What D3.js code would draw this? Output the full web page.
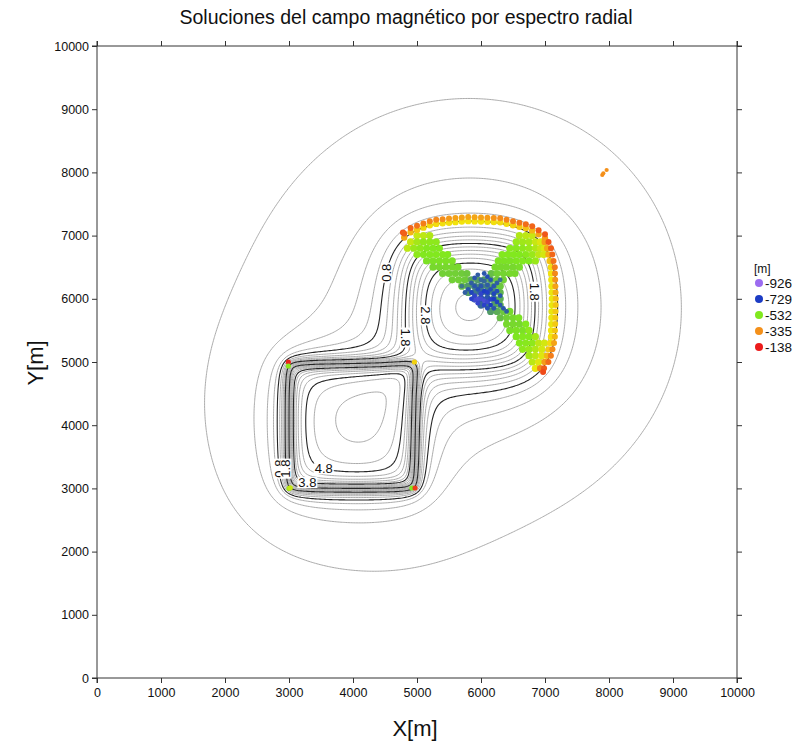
<!DOCTYPE html>
<html><head><meta charset="utf-8">
<script src="https://cdn.jsdelivr.net/npm/d3@7"></script>
<style>
body{margin:0;background:#fff;}
text{font-family:"Liberation Sans",Arial,sans-serif;}
</style>
</head><body>
<svg id="c" width="803" height="746"></svg>
<script>
// ---------------- data ----------------
const xTickValues = [0,1000,2000,3000,4000,5000,6000,7000,8000,9000,10000];
const yTickValues = [0,1000,2000,3000,4000,5000,6000,7000,8000,9000,10000];
const legendDepths = [-926,-729,-532,-335,-138];
const legendColors = ["#9c6cf0","#1c3cc4","#80e81e","#f4901a","#ec1c1c"];
// colour stops for the depth scale (m)
const depthStops  = [-926,-729,-532,-433,-335,-236,-138];
const depthColors = ["#9c6cf0","#1c3cc4","#80e81e","#f2e60c","#f4901a","#f05a18","#ec1c1c"];

// source bodies for the field: [x0, x1, y0, y1, topDepth, bottomDepth, amplitude]
const sourceBodies = [
  [2980, 4960, 2980, 4960,   70,  130, 0.87],
  [2980, 4960, 2980, 4960,  400, 1200, 0.08],
  [4860, 6800, 4920, 6830,  350,  500, 0.85],
  [4860, 6800, 4920, 6830, 3500, 4500, 0.70]
];
const fieldOffset = 0.12;
const contourLevels = [0,0.2,0.4,0.6,0.8,1,1.2,1.4,1.6,1.8,2,2.2,2.4,2.6,2.8,3,3.2,3.4,3.6,3.8,4,4.2,4.4,4.6,4.8,5,5.2,5.4,5.6,5.8,6,6.2];

// solutions [x, y, depth]
const solTopInner = [[4800,6968,-360],[4900,7054,-380],[5000,7090,-400],[5100,7126,-410],[5200,7162,-420],[5300,7185,-420],[5400,7194,-425],[5500,7204,-425],[5600,7213,-430],[5700,7222,-430],[5800,7229,-430],[5900,7225,-430],[6000,7222,-430],[6100,7218,-430],[6200,7214,-425],[6300,7210,-420],[6400,7187,-420],[6500,7163,-410],[6600,7140,-400],[6700,7116,-390],[6800,7082,-380],[6900,7020,-360],[7000,6958,-350]];
const solTopOuter = [[4780,7050,-230],[4800,7033,-250],[4900,7119,-260],[5000,7155,-280],[5100,7191,-300],[5200,7227,-310],[5300,7250,-320],[5400,7259,-330],[5500,7269,-345],[5600,7278,-355],[5700,7287,-360],[5800,7294,-360],[5900,7290,-360],[6000,7287,-355],[6100,7283,-350],[6200,7279,-340],[6300,7275,-330],[6400,7252,-315],[6500,7228,-300],[6600,7205,-285],[6700,7181,-270],[6800,7147,-255],[6900,7085,-240],[7000,7023,-230]];
const solRightInner = [[6995,6900,-350],[7034,6800,-360],[7054,6700,-370],[7073,6600,-390],[7093,6500,-420],[7096,6400,-430],[7099,6300,-435],[7102,6200,-440],[7105,6100,-440],[7108,6000,-440],[7106,5900,-440],[7104,5800,-440],[7101,5700,-440],[7099,5600,-440],[7096,5500,-435],[7094,5400,-430],[7081,5300,-420],[7056,5200,-400],[7032,5100,-380],[6993,5000,-350],[6925,4900,-320]];
const solRightOuter = [[7055,6900,-230],[7094,6800,-240],[7114,6700,-260],[7133,6600,-280],[7153,6500,-300],[7156,6400,-320],[7159,6300,-340],[7162,6200,-355],[7165,6100,-370],[7168,6000,-385],[7166,5900,-395],[7164,5800,-400],[7161,5700,-400],[7159,5600,-400],[7156,5500,-395],[7154,5400,-380],[7141,5300,-355],[7116,5200,-330],[7092,5100,-300],[7053,5000,-270],[6985,4900,-240],[6970,4840,-210]];
const solFill = [
 [5000,7000,-470],[5100,7000,-480],[5200,7000,-490],[6600,7000,-490],[6700,7000,-480],[6800,7000,-470],
 [4900,6900,-470],[5000,6900,-500],[5100,6900,-520],[5200,6900,-520],[5300,6900,-520],[6550,6900,-510],[6650,6900,-505],[6750,6900,-500],[6850,6900,-470],[6930,6900,-450],
 [4850,6800,-480],[4950,6800,-510],[5050,6800,-520],[5150,6800,-530],[5250,6800,-530],[5350,6800,-530],[6450,6800,-525],[6550,6800,-525],[6650,6800,-520],[6750,6800,-510],[6850,6800,-490],[6930,6800,-470],[6990,6800,-450],
 [5000,6700,-520],[5100,6700,-530],[5200,6700,-530],[5300,6700,-530],[5400,6700,-530],[5480,6700,-530],[6330,6700,-530],[6420,6700,-530],[6510,6700,-530],[6600,6700,-530],[6700,6700,-525],[6800,6700,-510],[6900,6700,-480],[6980,6700,-460],
 [5150,6600,-540],[5250,6600,-540],[5350,6600,-540],[5450,6600,-540],[5550,6600,-540],[6270,6600,-540],[6360,6600,-540],[6450,6600,-540],[6550,6600,-535],[6650,6600,-530],[6750,6600,-530],[6850,6600,-510],
 [5250,6500,-550],[5350,6500,-550],[5450,6500,-550],[5550,6500,-550],[5640,6500,-550],[6220,6500,-550],[6310,6500,-550],[6400,6500,-550],[6500,6500,-550],[6600,6500,-545],
 [5400,6400,-560],[5500,6400,-560],[5600,6400,-560],[5700,6400,-565],[5780,6400,-570],[6160,6400,-580],[6250,6400,-560],[6350,6400,-555],[6450,6400,-550],[6530,6400,-550],
 [5550,6300,-560],[5650,6300,-560],[5750,6300,-565],[5850,6300,-600],[5950,6300,-620],[6050,6300,-620],[6150,6300,-600],[6250,6300,-570],[6350,6300,-560],
 [5700,6200,-580],[5800,6200,-620],[5900,6200,-640],[6000,6200,-650],[6100,6200,-650],[6200,6200,-600],[6300,6200,-570],
 [5800,6100,-620],[5900,6100,-660],[6000,6100,-680],[6100,6100,-680],[6200,6100,-640],[6300,6100,-590],
 [5900,6000,-680],[6000,6000,-700],[6100,6000,-700],[6200,6000,-650],[6300,6000,-600],
 [6000,5900,-680],[6100,5900,-660],[6200,5900,-620],[6300,5900,-590],
 [6150,5800,-620],[6250,5800,-600],[6350,5800,-570],[6450,5800,-550],
 [6300,5700,-580],[6400,5700,-560],[6500,5700,-550],[6590,5700,-540],
 [6400,5600,-550],[6500,5600,-550],[6600,5600,-550],[6700,5600,-530],
 [6450,5500,-545],[6550,5500,-540],[6650,5500,-540],[6750,5500,-520],
 [6550,5400,-535],[6650,5400,-530],[6750,5400,-530],[6850,5400,-500],
 [6600,5300,-530],[6700,5300,-525],[6800,5300,-520],[6900,5300,-480],[6990,5300,-460],
 [6650,5200,-520],[6750,5200,-510],[6850,5200,-490],[6950,5200,-460],
 [6750,5100,-500],[6850,5100,-480],[6950,5100,-450],
 [6800,5000,-480],[6900,5000,-450],
 [6850,4900,-440]
];
const solCenter = [[5900,6050,-760],[5950,6000,-800],[6000,6000,-790],[6050,5970,-800],[6100,5950,-780],[6150,5990,-750],[6200,6000,-730],[6000,6080,-760],[6050,6120,-730],[5950,6150,-710],[6100,6100,-740],[6150,6150,-710],[6200,6080,-720],[5850,6100,-720],[5800,6150,-700],[5900,6200,-700],[6000,6200,-700],[6100,6220,-690],[6050,6280,-680],[6200,6200,-700],[6250,6120,-710],[6300,6050,-700],[6150,5900,-730],[6050,5900,-750],[5950,5930,-770],[6100,5850,-710],[6200,5850,-700],[5900,5980,-790],[5850,6000,-750],[5750,6100,-690],[5700,6200,-660],[6250,6250,-690],[6300,6300,-670],[6000,6300,-680],[6250,5950,-720],[6300,5900,-700],[5950,6380,-690],[6050,6400,-700],[6100,6350,-710],[5900,6330,-700],[6350,5850,-700],[6400,5800,-690],[6150,6300,-700],[5850,6250,-690]];
const solLowerBody = [[2990,5000,-150],[2990,4937,-520],[3000,3000,-500],[3020,3010,-470],[4920,3006,-530],[4970,3006,-190],[4960,5000,-410]];
const solFar = [[7895,7959,-330],[7911,7985,-335],[7963,8038,-335]];

// ---------------- layout ----------------
const svg = d3.select("#c");
const L = 97, R = 737, T = 46, B = 678;
const xs = d3.scaleLinear().domain([0,10000]).range([L,R]);
const ys = d3.scaleLinear().domain([0,10000]).range([B,T]);
const depthColor = d3.scaleLinear().domain(depthStops).range(depthColors).clamp(true);

svg.append("defs").append("clipPath").attr("id","clip")
  .append("rect").attr("x",L).attr("y",T).attr("width",R-L).attr("height",B-T);

// ---------------- field & contours ----------------
function sheetOmega(px, py, b, z){
  const X0=b[0]-px, X1=b[1]-px, Y0=b[2]-py, Y1=b[3]-py, z2=z*z;
  const f=(X,Y,s)=>s*Math.atan((X*Y)/(z*Math.sqrt(X*X+Y*Y+z2)));
  return f(X0,Y0,1)+f(X1,Y1,1)+f(X0,Y1,-1)+f(X1,Y0,-1);
}
const NZ = 4;
const N = 401, STEP = 10000/(N-1);
const vals = new Array(N*N);
for (let j=0;j<N;j++){
  const py=j*STEP;
  for (let i=0;i<N;i++){
    const px=i*STEP;
    let v=-fieldOffset;
    for (const b of sourceBodies){
      let s=0;
      for (let k=0;k<NZ;k++){
        const z=b[4]+(b[5]-b[4])*(k+0.5)/NZ;
        s+=sheetOmega(px,py,b,z);
      }
      v+=b[6]*s/NZ;
    }
    vals[j*N+i]=v;
  }
}
const contours = d3.contours().size([N,N]).thresholds(contourLevels)(vals);
const proj = d3.geoTransform({point(x,y){ this.stream.point(xs(x*STEP), ys(y*STEP)); }});
const gpath = d3.geoPath(proj);
const isMajor = v => Math.round(v*10)%10===8;

const plot = svg.append("g").attr("clip-path","url(#clip)");
plot.append("g").selectAll("path").data(contours.filter(c=>!isMajor(c.value))).join("path")
  .attr("d",gpath).attr("fill","none").attr("stroke","#a2a2a2").attr("stroke-width",0.9);
plot.append("g").selectAll("path").data(contours.filter(c=>isMajor(c.value))).join("path")
  .attr("d",gpath).attr("fill","none").attr("stroke","#262626").attr("stroke-width",1.1);

// contour labels (anchor hints in data units, snapped to the computed line)
const labelHints = [
  {level:0.8, at:[4390,6430], rot:-90},
  {level:1.8, at:[4844,5400], rot:90},
  {level:2.8, at:[5140,5730], rot:90},
  {level:1.8, at:[6860,6110], rot:90},
  {level:4.8, at:[3500,3170], rot:0},
  {level:3.8, at:[3280,3040], rot:0},
  {level:0.8, at:[2790,3300], rot:-90},
  {level:1.8, at:[2880,3300], rot:-90}
];
const labG = svg.append("g").attr("clip-path","url(#clip)");
labelHints.forEach(h=>{
  const c = contours.find(c=>Math.abs(c.value-h.level)<1e-6);
  const hx=xs(h.at[0]), hy=ys(h.at[1]);
  let best=[hx,hy], bd=1e9;
  if (c) c.coordinates.forEach(poly=>poly.forEach(ring=>ring.forEach(p=>{
    const qx=xs(p[0]*STEP), qy=ys(p[1]*STEP), d=(qx-hx)**2+(qy-hy)**2;
    if(d<bd){bd=d;best=[qx,qy];}
  })));
  if (bd>400) best=[hx,hy];
  const g=labG.append("g").attr("transform",`translate(${best[0]},${best[1]}) rotate(${h.rot})`);
  const r=g.append("rect").attr("fill","#fff");
  const t=g.append("text").attr("text-anchor","middle").attr("dy","0.35em")
    .attr("font-size",13).attr("fill","#111").text(h.level.toFixed(1));
  const bb=t.node().getBBox();
  r.attr("x",bb.x-1).attr("y",bb.y+2).attr("width",bb.width+2).attr("height",bb.height-4);
});

// solutions
const ptsG = svg.append("g").attr("clip-path","url(#clip)");
function drawPts(arr, r){
  ptsG.append("g").selectAll("circle").data(arr).join("circle")
    .attr("cx",d=>xs(d[0])).attr("cy",d=>ys(d[1])).attr("r",r)
    .attr("fill",d=>depthColor(d[2]));
}
drawPts(solFill,3.6);
drawPts(solTopInner,3.2);
drawPts(solRightInner,3.2);
drawPts(solTopOuter,3.0);
drawPts(solRightOuter,3.0);
drawPts(solCenter,2.4);
drawPts(solLowerBody,2.6);
drawPts(solFar,2.1);

// ---------------- axes ----------------
const ax = [
  svg.append("g").attr("transform",`translate(0,${B})`).call(d3.axisBottom(xs).tickValues(xTickValues).tickSize(5).tickPadding(5).tickFormat(d3.format("d"))),
  svg.append("g").attr("transform",`translate(0,${T})`).call(d3.axisTop(xs).tickValues(xTickValues).tickSize(5).tickFormat("")),
  svg.append("g").attr("transform",`translate(${L},0)`).call(d3.axisLeft(ys).tickValues(yTickValues).tickSize(5).tickPadding(3).tickFormat(d3.format("d"))),
  svg.append("g").attr("transform",`translate(${R},0)`).call(d3.axisRight(ys).tickValues(yTickValues).tickSize(5).tickFormat(""))
];
ax.forEach(g=>{
  g.select(".domain").remove();
  g.selectAll("line").attr("stroke","#333");
  g.selectAll("text").attr("font-family","'Liberation Sans',Arial,sans-serif").attr("font-size",12.5).attr("fill","#111");
});
const frame = svg.append("g").attr("stroke","#333").attr("stroke-width",1);
frame.append("line").attr("x1",L-5).attr("x2",R+5).attr("y1",B).attr("y2",B);
frame.append("line").attr("x1",L-5).attr("x2",R+5).attr("y1",T).attr("y2",T);
frame.append("line").attr("x1",L).attr("x2",L).attr("y1",T-5).attr("y2",B+5);
frame.append("line").attr("x1",R).attr("x2",R).attr("y1",T-5).attr("y2",B+5);

// titles
svg.append("text").attr("x",406).attr("y",24).attr("text-anchor","middle")
  .attr("font-size",19.5).attr("fill","#111").text("Soluciones del campo magnético por espectro radial");
svg.append("text").attr("x",415).attr("y",736).attr("text-anchor","middle")
  .attr("font-size",22).attr("fill","#111").text("X[m]");
svg.append("text").attr("transform","translate(43,363) rotate(-90)").attr("text-anchor","middle")
  .attr("font-size",22).attr("fill","#111").text("Y[m]");

// legend
const lg = svg.append("g");
lg.append("text").attr("x",754).attr("y",273).attr("font-size",12).attr("fill","#111").text("[m]");
legendDepths.forEach((d,i)=>{
  const y=283+i*16;
  lg.append("circle").attr("cx",759).attr("cy",y).attr("r",4).attr("fill",legendColors[i]);
  lg.append("text").attr("x",765).attr("y",y).attr("dy","0.35em").attr("font-size",13.5).attr("fill","#111").text(d);
});
</script>
</body></html>
